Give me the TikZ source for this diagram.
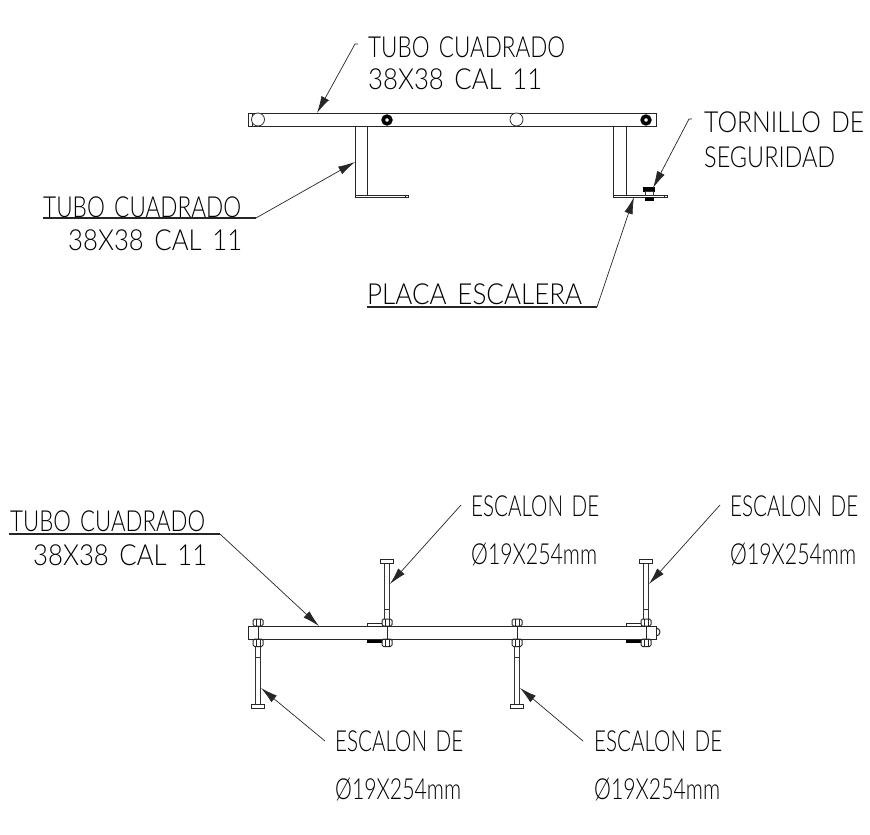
\documentclass[tikz,border=0pt]{standalone}
\usepackage{fontspec}
\usepackage{graphicx}
\usetikzlibrary{arrows.meta}
\newfontfamily\cadfont{Lato Light}
\newcommand{\cadtext}[2]{\resizebox{#1pt}{\height}{#2}}
\newcommand{\wgap}{\hspace{12pt}}
\tikzset{
  x=1pt,y=-1pt,
  cad/.style={inner sep=0pt,anchor=base west,font=\cadfont\fontsize{29}{29}\selectfont,text=black},
  part/.style={draw=black!85,line width=1pt,fill=white},
  solid part/.style={draw=black,fill=black,line width=.5pt},
  thin part/.style={draw=black!80,line width=.8pt,fill=white},
  ring/.style={draw=black,line width=3.6pt,fill=white},
  leader/.style={draw=black!85,line width=.7pt,-{Latex[length=17pt,width=8.5pt]}},
  rule/.style={draw=black!85,line width=1.1pt}
}
\newcommand{\nutpair}[1]{%
  \draw[part,rounded corners=1.5pt] (#1-5,639) rectangle (#1+5,646.5);
  \draw[part] (#1-2,639) -- (#1-2,646.5) (#1+2,639) -- (#1+2,646.5);
  \draw[part,rounded corners=1.5pt] (#1-5,619) rectangle (#1+5,626);
  \draw[part] (#1-2,619) -- (#1-2,626) (#1+2,619) -- (#1+2,626);
  \draw[part] (#1,626) -- (#1,639);
  \draw[part] (#1-6,626) -- (#1+6,626) (#1-6,639) -- (#1+6,639);
}
\newcommand{\boltdown}[1]{% bolt hanging below the bar at x=#1
  \draw[thin part] (#1-2.7,646) rectangle (#1+2.7,705);
  \draw[thin part] (#1-2.7,657) -- (#1+2.7,657);
  \draw[part] (#1-6.5,704.5) rectangle (#1+6.5,708);
  \nutpair{#1}
}
\newcommand{\boltup}[1]{% bolt rising above the bar at x=#1
  \draw[thin part] (#1-2.7,563) rectangle (#1+2.7,619);
  \draw[thin part] (#1-2.7,609) -- (#1+2.7,609);
  \draw[part] (#1-6.5,559.5) rectangle (#1+6.5,563);
  \draw[part] (#1-20,623.5) rectangle (#1-5,626);
  \draw[solid part] (#1-20,640) rectangle (#1-5,642);
  \nutpair{#1}
}
\begin{document}
\begin{tikzpicture}
\useasboundingbox (0,0) rectangle (870,835);
% --- top view
\draw[part] (355,126) rectangle (367,195);
\draw[part] (613,126) rectangle (626,195);
\draw[part] (355,195) rectangle (408,197.5);
\draw[part] (613,195) rectangle (667,197.5);
\draw[part] (664.5,195) -- (664.5,197.5);
\draw[part] (405.5,195) -- (405.5,197.5);
\draw[part] (358,126) arc[start angle=180,end angle=360,radius=3.5];
\draw[part] (616,126) arc[start angle=180,end angle=360,radius=3.5];
\draw[part] (248,113) rectangle (656,126);
\draw[part] (252.5,113) -- (252.5,126);
\draw[thin part] (258,119.5) circle[radius=6.5];
\draw[thin part] (516.5,119.5) circle[radius=6.5];
\draw[ring] (387,120) circle[radius=3.8];
\draw[ring] (646,120) circle[radius=3.8];
\draw[solid part] (643.5,187.5) rectangle (654.5,191);
\draw[thin part] (645,191) rectangle (653,195);
\draw[solid part] (645.5,197.5) rectangle (653.5,200);
% --- bottom view
\draw[part] (656,628) arc[start angle=-90,end angle=90,radius=4];
\draw[part] (248,626) rectangle (656,639);
\boltup{387}
\boltup{646}
\boltdown{258}
\boltdown{517}
% --- labels
\node[cad] (a1) at (368,57) {\cadtext{197}{TUBO\wgap CUADRADO}};
\node[cad] (a2) at (368,89) {\cadtext{174}{38X38\wgap CAL\wgap 11}};
\node[cad] (b1) at (43,217) {\cadtext{198}{TUBO\wgap CUADRADO}};
\node[cad] (b2) at (68,250) {\cadtext{174}{38X38\wgap CAL\wgap 11}};
\node[cad] (c1) at (704,132) {\cadtext{160}{TORNILLO\wgap DE}};
\node[cad] (c2) at (704,167) {\cadtext{131}{SEGURIDAD}};
\node[cad] (d1) at (367,304) {\cadtext{215}{PLACA\wgap ESCALERA}};
\node[cad] (e1) at (10,531) {\cadtext{195}{TUBO\wgap CUADRADO}};
\node[cad] (e2) at (33,565) {\cadtext{174}{38X38\wgap CAL\wgap 11}};
\node[cad] (f1) at (471,516) {\cadtext{128}{ESCALON\wgap DE}};
\node[cad] (f2) at (471,564) {\cadtext{126}{Ø19X254mm}};
\node[cad] (g1) at (730,516) {\cadtext{128}{ESCALON\wgap DE}};
\node[cad] (g2) at (730,564) {\cadtext{126}{Ø19X254mm}};
\node[cad] (h1) at (335,751) {\cadtext{128}{ESCALON\wgap DE}};
\node[cad] (h2) at (335,799) {\cadtext{126}{Ø19X254mm}};
\node[cad] (i1) at (594,751) {\cadtext{128}{ESCALON\wgap DE}};
\node[cad] (i2) at (594,799) {\cadtext{126}{Ø19X254mm}};
% --- leaders
\coordinate (ta) at (317,113); \coordinate (sa) at (358,44);
\coordinate (tb) at (355,162); \coordinate (sb) at (43,218); \coordinate (kb) at (256,218);
\coordinate (tc) at (653,188); \coordinate (sc) at (692,119);
\coordinate (td) at (634,197); \coordinate (sd) at (367,307); \coordinate (kd) at (597,307);
\coordinate (te) at (319,626); \coordinate (se) at (9,534); \coordinate (ke) at (220,534);
\coordinate (tf) at (390,584); \coordinate (sf) at (461,505);
\coordinate (tg) at (649,584); \coordinate (sg) at (720,505);
\coordinate (th) at (261,688); \coordinate (sh) at (325,741);
\coordinate (ti) at (520,688); \coordinate (si) at (583,741);
\draw[leader] (sa) -- ++(-3,0) -- (ta);
\draw[rule] (sb) -- (kb); \draw[leader] (kb) -- (tb);
\draw[leader] (sc) -- ++(-3,0) -- (tc);
\draw[rule] (sd) -- (kd); \draw[leader] (kd) -- (td);
\draw[rule] (se) -- (ke); \draw[leader] (ke) -- (te);
\draw[leader] (sf) -- (tf);
\draw[leader] (sg) -- (tg);
\draw[leader] (sh) -- (th);
\draw[leader] (si) -- (ti);
\end{tikzpicture}
\end{document}
